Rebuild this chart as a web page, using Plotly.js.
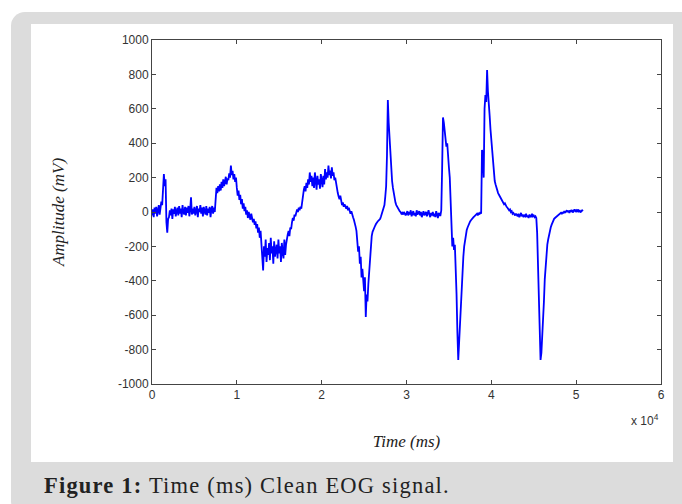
<!DOCTYPE html>
<html>
<head>
<meta charset="utf-8">
<script src="https://cdn.plot.ly/plotly-3.0.1.min.js"></script>
<style>
  html, body { margin: 0; padding: 0; background: #ffffff; }
  #frame { position: absolute; left: 11px; top: 12px; width: 700px; height: 504px; background: #dcdcdc; border-radius: 14px; }
  #panel { position: absolute; left: 31px; top: 24px; width: 642px; height: 438px; background: #ffffff; }
  #caption { position: absolute; left: 44px; top: 473px; font-family: "Liberation Serif", serif; font-size: 22.5px; letter-spacing: 1.2px; color: #222; white-space: nowrap; }
  #chart { position: absolute; left: 0; top: 0; width: 682px; height: 504px; }
</style>
</head>
<body>
<div id="frame"></div>
<div id="panel"></div>
<div id="caption"><b>Figure 1:</b> Time (ms) Clean EOG signal.</div>
<div id="chart"></div>
<script>
// Sampling interval of the recorded signal (ms)
const SAMPLE_MS = 100;

// EOG amplitude (mV), one row per second
const amplitude = [
  -20, 15, -30, 25, -10, 30, -25, 10, 40, -15,
  20, 60, 40, 160, 220, 150, 190, -60, -120, -40,
  -30, 10, -20, 20, -40, 15, -10, 30, -25, 5,
  25, -20, 35, -10, 20, -30, 40, 0, -15, 30,
  -20, 25, -5, 35, -25, 15, 85, -15, 20, -10,
  30, -20, 10, 35, -30, 20, 0, 40, -10, 25,
  -25, 30, 5, -15, 35, -20, 20, -5, 30, -30,
  15, 35, -10, 25, 0, 90, 140, 110, 150, 120,
  160, 125, 175, 140, 190, 150, 170, 205, 160, 195,
  185, 225, 200, 270, 215, 240, 190, 220, 175, 200,
  140, 95, 125, 70, 100, 45, 75, 20, 50, 5,
  30, -15, 10, -35, 0, -20, -45, -10, -30, -60,
  -40, -75, -55, -95, -70, -120, -90, -150, -110, -180,
  -230, -340, -200, -260, -160, -290, -210, -250, -180, -280,
  -150, -240, -200, -300, -170, -260, -220, -190, -270, -160,
  -240, -200, -290, -180, -230, -270, -160, -250, -190, -150,
  -130, -110, -140, -90, -100, -60, -35, -50, -15, -25,
  5, 15, 0, 25, 10, 30, 20, 60, 110, 130,
  150, 120, 170, 140, 190, 160, 230, 175, 210, 150,
  200, 140, 230, 170, 130, 210, 160, 190, 135, 220,
  175, 145, 210, 160, 250, 190, 230, 200, 270, 215,
  240, 195, 260, 210, 230, 185, 200, 160, 140, 110,
  90, 75, 95, 60, 40, 55, 30, 45, 25, 20,
  35, 10, 25, 0, -10, 5, -20, -30, -45, -60,
  -85, -110, -160, -230, -200, -300, -260, -380, -330, -420,
  -460, -380, -610, -480, -520, -420, -350, -280, -190, -140,
  -115, -100, -90, -80, -70, -60, -55, -50, -45, -40,
  -25, -10, 5, 20, 40, 90, 150, 330, 651, 520,
  430, 330, 250, 180, 140, 100, 75, 55, 40, 30,
  25, 15, 5, 0, -10, -5, -15, 0, -10, -20,
  -10, 5, -20, 0, -15, 10, -25, -5, 5, -20,
  -5, -25, 10, -15, -5, 5, -20, 0, -30, -10,
  5, -20, -10, 0, -25, -5, 10, -15, -30, -5,
  -20, 0, -25, -10, -30, 5, -15, -35, -5, -20,
  -20, 10, 250, 550, 520, 460, 420, 380, 400, 300,
  260, 200, 60, -120, -200, -150, -220, -190, -290, -480,
  -700, -860, -760, -640, -560, -440, -340, -260, -200, -160,
  -130, -105, -90, -75, -65, -55, -48, -40, -35, -30,
  -25, -20, -15, -10, -20, -5, -15, 0, -10, 360,
  340, 200, 600, 680, 640, 825, 700, 650, 560, 480,
  420, 350, 250, 210, 180, 160, 140, 125, 110, 100,
  90, 80, 70, 60, 55, 45, 50, 35, 30, 25,
  20, 10, 15, 0, 5, -10, -5, -15, -20, -10,
  -15, -25, -10, -30, -20, -5, -25, -15, -30, -20,
  -25, -10, -30, -20, -35, -15, -25, -30, -10, -25,
  -20, -30, -25, -35, -120, -300, -480, -650, -860, -820,
  -740, -660, -520, -390, -300, -240, -190, -160, -130, -110,
  -90, -75, -60, -50, -40, -35, -30, -25, -20, -15,
  -15, -10, -5, -12, 0, -8, 5, -5, 0, 10,
  0, 8, -5, 10, 2, 12, -3, 8, 15, 5,
  10, 0, 15, 5, 12, -2, 8, 10, 5
];

const xTickVals = [0, 10000, 20000, 30000, 40000, 50000, 60000];
const xTickText = ["0", "1", "2", "3", "4", "5", "6"];
const yTickVals = [-1000, -800, -600, -400, -200, 0, 200, 400, 600, 800, 1000];
const yTickText = ["-1000", "-800", "-600", "-400", "-200", "0", "200", "400", "600", "800", "1000"];

const time = amplitude.map((_, i) => i * SAMPLE_MS);

const trace = {
  x: time, y: amplitude, type: 'scatter', mode: 'lines',
  line: { color: '#0000ff', width: 1.8 }, hoverinfo: 'skip'
};

const axisCommon = {
  showgrid: false, zeroline: false, showline: true, mirror: 'ticks',
  linecolor: '#444', linewidth: 1, ticks: 'inside', ticklen: 4, tickcolor: '#444',
  tickfont: { family: 'Liberation Sans, Arial, sans-serif', size: 12, color: '#333' }
};

const layout = {
  width: 682, height: 504,
  paper_bgcolor: 'rgba(0,0,0,0)', plot_bgcolor: '#ffffff',
  margin: { l: 152, r: 21, t: 40, b: 120 },
  showlegend: false,
  xaxis: Object.assign({}, axisCommon, {
    range: [0, 60000], tickvals: xTickVals, ticktext: xTickText,
    title: { text: 'Time (ms)', standoff: 33,
      font: { family: 'Liberation Serif, serif', size: 17, style: 'italic', color: '#222' } }
  }),
  yaxis: Object.assign({}, axisCommon, {
    range: [-1000, 1000], tickvals: yTickVals, ticktext: yTickText,
    title: { text: 'Amplitude (mV)', standoff: 48,
      font: { family: 'Liberation Serif, serif', size: 17, style: 'italic', color: '#222' } }
  }),
  annotations: [{
    xref: 'paper', yref: 'paper', x: 1, y: -0.075, xanchor: 'right', yanchor: 'top',
    text: 'x 10<sup>4</sup>', showarrow: false,
    font: { family: 'Liberation Sans, Arial, sans-serif', size: 12, color: '#333' }
  }]
};

Plotly.newPlot('chart', [trace], layout, { staticPlot: true, displayModeBar: false });
</script>
</body>
</html>
